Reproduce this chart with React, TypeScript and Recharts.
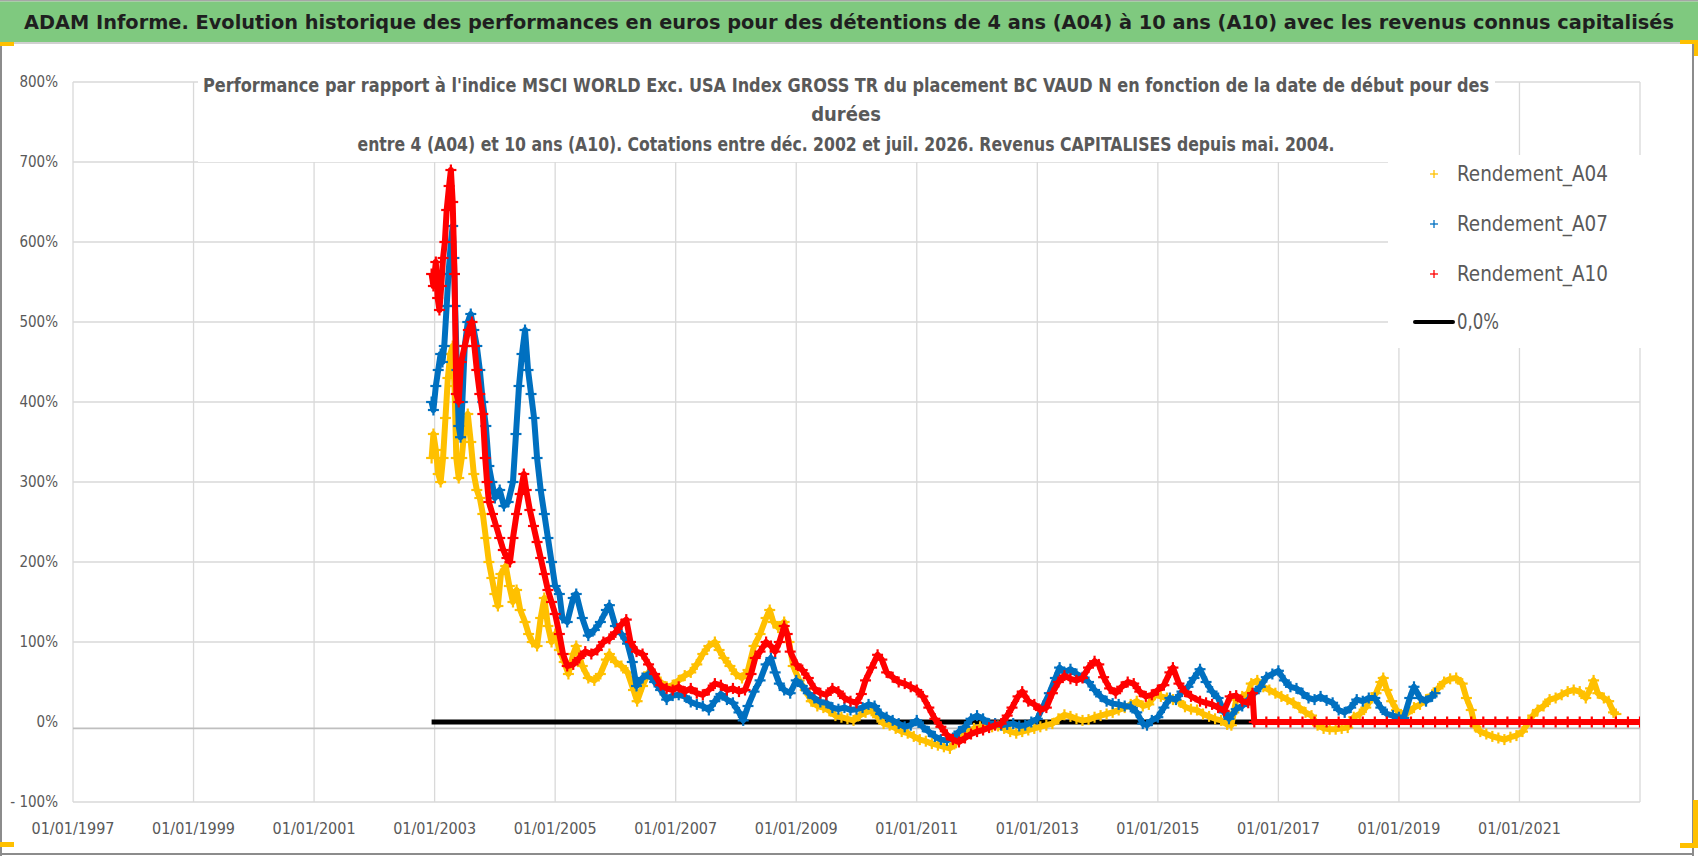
import {
  ScatterChart,
  Scatter,
  CartesianGrid,
  XAxis,
  YAxis,
  ReferenceLine,
  Legend
} from 'recharts';

// [decimal year of start date, performance in %]
const rendementA04: [number, number][] = [
  [2002.95, 330], [2002.98, 360], [2003.02, 340], [2003.06, 310], [2003.1, 300], [2003.14, 330],
  [2003.18, 380], [2003.22, 430], [2003.26, 460], [2003.3, 470], [2003.33, 420], [2003.36, 330],
  [2003.4, 305], [2003.45, 330], [2003.5, 370], [2003.55, 385], [2003.6, 350], [2003.65, 310],
  [2003.7, 290], [2003.75, 280], [2003.8, 260], [2003.85, 230], [2003.9, 200], [2003.95, 180],
  [2004.0, 160], [2004.05, 145], [2004.1, 185], [2004.18, 195], [2004.24, 170], [2004.3, 150],
  [2004.36, 165], [2004.42, 140], [2004.5, 125], [2004.56, 110], [2004.62, 100], [2004.7, 95],
  [2004.76, 130], [2004.82, 155], [2004.88, 120], [2004.94, 100], [2005.0, 110], [2005.07, 90],
  [2005.15, 75], [2005.22, 60], [2005.3, 85], [2005.35, 95], [2005.45, 70], [2005.55, 55],
  [2005.65, 52], [2005.75, 60], [2005.85, 78], [2005.9, 85], [2006.0, 75], [2006.1, 70],
  [2006.2, 62], [2006.3, 40], [2006.36, 26], [2006.45, 45], [2006.55, 62], [2006.65, 58],
  [2006.75, 50], [2006.85, 44], [2006.95, 46], [2007.05, 52], [2007.15, 58], [2007.25, 62],
  [2007.35, 72], [2007.45, 85], [2007.55, 95], [2007.65, 100], [2007.72, 90], [2007.8, 80],
  [2007.9, 70], [2008.0, 60], [2008.1, 55], [2008.2, 65], [2008.3, 95], [2008.4, 110],
  [2008.5, 130], [2008.56, 140], [2008.62, 125], [2008.7, 118], [2008.8, 125], [2008.88, 100],
  [2008.95, 70], [2009.05, 52], [2009.15, 40], [2009.25, 26], [2009.35, 20], [2009.45, 18],
  [2009.55, 14], [2009.65, 8], [2009.75, 6], [2009.85, 4], [2009.95, 2], [2010.05, 8],
  [2010.15, 12], [2010.25, 14], [2010.35, 6], [2010.45, -2], [2010.55, -4], [2010.65, -8],
  [2010.75, -12], [2010.85, -14], [2010.95, -18], [2011.05, -22], [2011.15, -24], [2011.25, -27],
  [2011.35, -29], [2011.45, -31], [2011.55, -33], [2011.65, -26], [2011.75, -19], [2011.85, -12],
  [2011.95, -8], [2012.05, -6], [2012.15, -5], [2012.25, -6], [2012.35, -5], [2012.45, -8],
  [2012.55, -12], [2012.65, -14], [2012.75, -12], [2012.85, -10], [2012.95, -8], [2013.05, -6],
  [2013.15, -4], [2013.25, -2], [2013.35, 4], [2013.45, 9], [2013.55, 7], [2013.65, 4],
  [2013.75, 2], [2013.85, 3], [2013.95, 6], [2014.05, 8], [2014.15, 10], [2014.25, 12],
  [2014.35, 15], [2014.45, 18], [2014.55, 22], [2014.65, 26], [2014.75, 20], [2014.85, 22],
  [2014.95, 34], [2015.05, 32], [2015.15, 30], [2015.25, 28], [2015.35, 26], [2015.45, 19],
  [2015.55, 16], [2015.65, 15], [2015.75, 10], [2015.85, 7], [2015.95, 4], [2016.05, 2],
  [2016.15, -3], [2016.22, -4], [2016.26, 12], [2016.3, 28], [2016.4, 32], [2016.5, 36],
  [2016.55, 48], [2016.65, 52], [2016.75, 44], [2016.85, 40], [2016.95, 36], [2017.05, 32],
  [2017.15, 28], [2017.25, 24], [2017.35, 18], [2017.45, 12], [2017.55, 8], [2017.65, -4],
  [2017.75, -8], [2017.85, -9], [2017.95, -9], [2018.05, -8], [2018.15, -7], [2018.25, 6],
  [2018.35, 10], [2018.45, 18], [2018.55, 30], [2018.62, 36], [2018.7, 50], [2018.74, 55],
  [2018.8, 40], [2018.88, 26], [2018.96, 15], [2019.05, 8], [2019.14, 11], [2019.25, 18],
  [2019.35, 22], [2019.45, 28], [2019.55, 34], [2019.65, 42], [2019.75, 50], [2019.85, 54],
  [2019.95, 55], [2020.05, 48], [2020.12, 30], [2020.2, 15], [2020.26, -5], [2020.35, -12],
  [2020.45, -15], [2020.55, -18], [2020.65, -20], [2020.75, -22], [2020.85, -19], [2020.95, -17],
  [2021.05, -12], [2021.15, 0], [2021.22, 8], [2021.3, 15], [2021.4, 20], [2021.5, 28],
  [2021.6, 30], [2021.7, 34], [2021.8, 38], [2021.9, 40], [2022.0, 38], [2022.1, 30],
  [2022.18, 42], [2022.23, 52], [2022.3, 36], [2022.4, 30], [2022.48, 26], [2022.56, 12],
  [2022.6, 10]
];

const rendementA07: [number, number][] = [
  [2002.95, 400], [2002.98, 390], [2003.02, 420], [2003.06, 440], [2003.1, 460], [2003.13, 450],
  [2003.16, 470], [2003.2, 520], [2003.23, 560], [2003.27, 600], [2003.3, 620], [2003.32, 580],
  [2003.34, 520], [2003.37, 440], [2003.4, 370], [2003.43, 356], [2003.46, 400], [2003.5, 470],
  [2003.55, 500], [2003.6, 510], [2003.65, 490], [2003.7, 470], [2003.75, 440], [2003.8, 400],
  [2003.85, 370], [2003.9, 320], [2003.95, 300], [2004.0, 280], [2004.08, 290], [2004.15, 270],
  [2004.22, 275], [2004.3, 300], [2004.35, 360], [2004.4, 420], [2004.45, 460], [2004.5, 490],
  [2004.55, 440], [2004.6, 410], [2004.65, 380], [2004.7, 330], [2004.76, 290], [2004.82, 260],
  [2004.88, 230], [2004.94, 200], [2005.0, 170], [2005.07, 160], [2005.12, 130], [2005.2, 125],
  [2005.3, 155], [2005.35, 160], [2005.45, 130], [2005.55, 108], [2005.65, 115], [2005.75, 125],
  [2005.85, 140], [2005.9, 146], [2006.0, 120], [2006.1, 110], [2006.2, 98], [2006.28, 75],
  [2006.35, 45], [2006.45, 55], [2006.55, 60], [2006.65, 50], [2006.75, 40], [2006.85, 28],
  [2006.95, 33], [2007.05, 34], [2007.15, 32], [2007.25, 25], [2007.35, 22], [2007.45, 20],
  [2007.55, 15], [2007.65, 26], [2007.75, 35], [2007.85, 28], [2007.95, 24], [2008.05, 12],
  [2008.12, 2], [2008.2, 20], [2008.3, 38], [2008.4, 52], [2008.5, 72], [2008.58, 80],
  [2008.65, 62], [2008.72, 48], [2008.8, 40], [2008.9, 36], [2009.0, 52], [2009.1, 45],
  [2009.2, 36], [2009.3, 30], [2009.4, 25], [2009.5, 24], [2009.6, 18], [2009.7, 16],
  [2009.8, 18], [2009.9, 15], [2010.0, 16], [2010.1, 18], [2010.2, 22], [2010.3, 20],
  [2010.4, 10], [2010.5, 6], [2010.6, 2], [2010.7, -2], [2010.8, -6], [2010.9, -4],
  [2011.0, 2], [2011.1, -6], [2011.2, -12], [2011.3, -18], [2011.4, -22], [2011.5, -23],
  [2011.6, -20], [2011.7, -12], [2011.8, -6], [2011.9, 4], [2012.0, 8], [2012.1, 4],
  [2012.2, -2], [2012.3, -2], [2012.4, -4], [2012.5, -3], [2012.6, -2], [2012.7, -5],
  [2012.8, -4], [2012.9, 0], [2013.0, 4], [2013.1, 20], [2013.2, 36], [2013.3, 55],
  [2013.37, 68], [2013.45, 62], [2013.55, 66], [2013.65, 60], [2013.75, 56], [2013.85, 50],
  [2013.95, 40], [2014.05, 32], [2014.15, 26], [2014.25, 23], [2014.35, 22], [2014.45, 20],
  [2014.55, 19], [2014.65, 12], [2014.75, -2], [2014.82, -4], [2014.9, 2], [2015.0, 6],
  [2015.1, 18], [2015.2, 30], [2015.3, 28], [2015.4, 38], [2015.5, 44], [2015.6, 55],
  [2015.7, 66], [2015.8, 50], [2015.9, 38], [2016.0, 30], [2016.1, 12], [2016.18, 4],
  [2016.3, 16], [2016.4, 20], [2016.5, 28], [2016.6, 36], [2016.7, 44], [2016.8, 56],
  [2016.9, 60], [2017.0, 64], [2017.1, 52], [2017.2, 44], [2017.3, 42], [2017.4, 36],
  [2017.5, 30], [2017.6, 28], [2017.7, 32], [2017.8, 27], [2017.9, 24], [2018.0, 15],
  [2018.1, 12], [2018.2, 18], [2018.3, 28], [2018.4, 26], [2018.5, 30], [2018.6, 30],
  [2018.7, 18], [2018.8, 10], [2018.9, 8], [2019.0, 6], [2019.08, 5], [2019.18, 30],
  [2019.25, 44], [2019.35, 30], [2019.45, 26], [2019.55, 32], [2019.6, 36]
];

const rendementA10: [number, number][] = [
  [2002.95, 560], [2002.98, 545], [2003.02, 575], [2003.05, 530], [2003.08, 515], [2003.11, 545],
  [2003.14, 580], [2003.17, 600], [2003.2, 640], [2003.24, 670], [2003.27, 690], [2003.3, 650],
  [2003.33, 560], [2003.36, 410], [2003.4, 400], [2003.44, 450], [2003.5, 470], [2003.56, 490],
  [2003.62, 500], [2003.66, 470], [2003.7, 440], [2003.75, 410], [2003.8, 385], [2003.84, 330],
  [2003.87, 300], [2003.9, 275], [2003.96, 260], [2004.02, 245], [2004.08, 230], [2004.14, 215],
  [2004.2, 205], [2004.25, 200], [2004.3, 230], [2004.36, 260], [2004.42, 285], [2004.48, 310],
  [2004.52, 290], [2004.58, 265], [2004.64, 245], [2004.7, 225], [2004.76, 205], [2004.82, 185],
  [2004.88, 165], [2004.94, 150], [2005.0, 135], [2005.07, 110], [2005.13, 85], [2005.2, 70],
  [2005.3, 72], [2005.4, 80], [2005.5, 88], [2005.6, 85], [2005.7, 90], [2005.8, 100],
  [2005.9, 104], [2006.0, 112], [2006.1, 122], [2006.18, 128], [2006.25, 100], [2006.35, 88],
  [2006.45, 85], [2006.55, 72], [2006.65, 60], [2006.75, 46], [2006.85, 42], [2006.95, 40],
  [2007.05, 44], [2007.15, 38], [2007.25, 42], [2007.35, 36], [2007.45, 34], [2007.55, 40],
  [2007.65, 48], [2007.75, 46], [2007.85, 40], [2007.95, 42], [2008.05, 38], [2008.15, 40],
  [2008.25, 60], [2008.32, 80], [2008.4, 88], [2008.5, 100], [2008.58, 95], [2008.65, 88],
  [2008.72, 100], [2008.8, 120], [2008.85, 110], [2008.9, 88], [2009.0, 72], [2009.1, 65],
  [2009.2, 55], [2009.3, 42], [2009.4, 36], [2009.5, 34], [2009.6, 42], [2009.7, 38],
  [2009.8, 30], [2009.9, 26], [2010.0, 24], [2010.08, 35], [2010.15, 52], [2010.25, 68],
  [2010.35, 84], [2010.42, 78], [2010.5, 62], [2010.6, 56], [2010.7, 50], [2010.8, 48],
  [2010.9, 44], [2011.0, 40], [2011.1, 32], [2011.2, 18], [2011.3, 4], [2011.4, -6],
  [2011.5, -16], [2011.6, -22], [2011.7, -25], [2011.8, -20], [2011.9, -15], [2012.0, -12],
  [2012.1, -10], [2012.2, -7], [2012.3, -4], [2012.4, -2], [2012.5, 8], [2012.58, 18],
  [2012.68, 32], [2012.75, 38], [2012.85, 26], [2012.95, 22], [2013.05, 15], [2013.15, 18],
  [2013.25, 36], [2013.35, 50], [2013.45, 58], [2013.55, 54], [2013.65, 52], [2013.75, 55],
  [2013.85, 68], [2013.95, 76], [2014.02, 72], [2014.1, 56], [2014.2, 42], [2014.3, 36],
  [2014.4, 44], [2014.5, 50], [2014.6, 48], [2014.7, 38], [2014.8, 32], [2014.9, 34],
  [2015.0, 40], [2015.1, 46], [2015.2, 62], [2015.25, 68], [2015.35, 48], [2015.45, 38],
  [2015.55, 32], [2015.7, 26], [2015.8, 24], [2015.9, 22], [2016.0, 18], [2016.1, 14],
  [2016.2, 32], [2016.3, 33], [2016.4, 26], [2016.5, 24], [2016.57, 36],
  // no 10-year window available after mid-2016: the sheet shows 0
  [2016.6, 0], [2016.8, 0], [2017.0, 0], [2017.2, 0], [2017.4, 0], [2017.6, 0], [2017.8, 0],
  [2018.0, 0], [2018.2, 0], [2018.4, 0], [2018.6, 0], [2018.8, 0], [2019.0, 0], [2019.2, 0],
  [2019.4, 0], [2019.6, 0], [2019.8, 0], [2020.0, 0], [2020.2, 0], [2020.4, 0], [2020.6, 0],
  [2020.8, 0], [2021.0, 0], [2021.2, 0], [2021.4, 0], [2021.6, 0], [2021.8, 0], [2022.0, 0],
  [2022.2, 0], [2022.4, 0], [2022.6, 0], [2022.8, 0], [2023.0, 0]
];

const zeroLine: [number, number][] = [[2002.95, 0], [2023.0, 0]];

const xTicks = [1997, 1999, 2001, 2003, 2005, 2007, 2009, 2011, 2013, 2015, 2017, 2019, 2021];
const yTicks = [-100, 0, 100, 200, 300, 400, 500, 600, 700, 800];
const gridValues = [-100, 100, 200, 300, 400, 500, 600, 700, 800];

const titleText =
  'ADAM Informe. Evolution historique des performances en euros pour des détentions de 4 ans (A04) à 10 ans (A10) avec les revenus connus capitalisés';
const subtitleLines = [
  "Performance par rapport à l'indice MSCI WORLD Exc. USA Index GROSS TR  du placement BC VAUD N en fonction de la date de début pour des",
  'durées',
  'entre 4 (A04) et 10 ans (A10). Cotations entre déc. 2002 et juil. 2026. Revenus CAPITALISES depuis mai. 2004.'
];

const legendItems = [
  { label: 'Rendement_A04', color: '#FFC000', kind: 'cross' },
  { label: 'Rendement_A07', color: '#0070C0', kind: 'cross' },
  { label: 'Rendement_A10', color: '#FF0000', kind: 'cross' },
  { label: '0,0%', color: '#000000', kind: 'line' }
];

const FONT = "'Liberation Sans Narrow', 'DejaVu Sans Condensed', 'Open Sans', sans-serif";
const TEXT_GREY = '#595959';

const toPoints = (rows: [number, number][]) => rows.map(([x, y]) => ({ x, y }));

const makeCross = (color: string, half: number, width: number) => (props: any) => {
  const { cx, cy } = props;
  if (cx == null || cy == null) return <g />;
  return (
    <g stroke={color} strokeWidth={width}>
      <line x1={cx - half} y1={cy} x2={cx + half} y2={cy} />
      <line x1={cx} y1={cy - half} x2={cx} y2={cy + half} />
    </g>
  );
};

const noDot = () => <g />;

const formatPercent = (v: number) => (v < 0 ? `- ${Math.abs(v)}%` : `${v}%`);
const formatDate = (v: number) => `01/01/${v}`;

const LegendBox = () => (
  <svg width={257} height={193} style={{ display: 'block', background: '#ffffff' }}>
    {legendItems.map((item, i) => {
      const cy = [19, 69, 119, 167][i];
      return (
        <g key={item.label}>
          {item.kind === 'cross' ? (
            <g stroke={item.color} strokeWidth={1.3}>
              <line x1={42} y1={cy} x2={50} y2={cy} />
              <line x1={46} y1={cy - 4} x2={46} y2={cy + 4} />
            </g>
          ) : (
            <line x1={27} y1={cy} x2={65} y2={cy} stroke={item.color} strokeWidth={4} strokeLinecap="round" />
          )}
          <text
            x={69}
            y={cy}
            dominantBaseline="central"
            fontFamily={FONT}
            fontSize={21}
            fill={TEXT_GREY}
            textLength={item.kind === 'cross' ? 151 : 42}
            lengthAdjust="spacingAndGlyphs"
          >
            {item.label}
          </text>
        </g>
      );
    })}
  </svg>
);

const SERIES_LINE = 6;

const App = () => {
  return (
    <div style={{ position: 'absolute', left: 0, top: 0, width: 1698, height: 856, background: '#ffffff' }}>
      <ScatterChart
        width={1698}
        height={856}
        margin={{ top: 82, right: 58, bottom: 24, left: 13 }}
        style={{ fontFamily: FONT }}
      >
        <CartesianGrid stroke="#d9d9d9" strokeWidth={1.3} horizontalValues={gridValues} />
        <XAxis
          type="number"
          dataKey="x"
          domain={[1997, 2023]}
          ticks={xTicks}
          tickFormatter={formatDate}
          allowDataOverflow
          axisLine={false}
          tickLine={false}
          tickSize={0}
          tickMargin={21}
          height={30}
          tick={{ fill: TEXT_GREY, fontSize: 16, fontFamily: FONT }}
        />
        <YAxis
          type="number"
          dataKey="y"
          domain={[-100, 800]}
          ticks={yTicks}
          tickFormatter={formatPercent}
          allowDataOverflow
          axisLine={false}
          tickLine={false}
          tickSize={0}
          tickMargin={15}
          width={60}
          tick={{ fill: TEXT_GREY, fontSize: 15, fontFamily: FONT }}
        />
        <ReferenceLine y={-8} stroke="#bfbfbf" strokeWidth={1.6} />
        <Scatter
          name="0,0%"
          data={toPoints(zeroLine)}
          line={{ stroke: '#000000', strokeWidth: 5 }}
          shape={noDot}
          isAnimationActive={false}
        />
        <Scatter
          name="Rendement_A04"
          data={toPoints(rendementA04)}
          line={{ stroke: '#FFC000', strokeWidth: SERIES_LINE, strokeLinejoin: 'round' }}
          shape={makeCross('#FFC000', 5.5, 2.2)}
          isAnimationActive={false}
        />
        <Scatter
          name="Rendement_A07"
          data={toPoints(rendementA07)}
          line={{ stroke: '#0070C0', strokeWidth: SERIES_LINE, strokeLinejoin: 'round' }}
          shape={makeCross('#0070C0', 5.5, 2.2)}
          isAnimationActive={false}
        />
        <Scatter
          name="Rendement_A10"
          data={toPoints(rendementA10)}
          line={{ stroke: '#FF0000', strokeWidth: SERIES_LINE, strokeLinejoin: 'round' }}
          shape={makeCross('#FF0000', 5.5, 2.2)}
          isAnimationActive={false}
        />
        <Legend
          layout="vertical"
          align="center"
          verticalAlign="middle"
          wrapperStyle={{ left: 1388, top: 155, width: 257, height: 193 }}
          content={() => <LegendBox />}
        />
      </ScatterChart>

      <svg
        width={1698}
        height={856}
        style={{ position: 'absolute', left: 0, top: 0, pointerEvents: 'none' }}
      >
        {/* title band */}
        <rect x={0} y={0} width={1698} height={1.5} fill="#a6a6a6" />
        <rect x={0} y={1.5} width={1698} height={40.5} fill="#7fc97f" />
        <rect x={0} y={42} width={1698} height={2} fill="#d0d0d0" />
        <text
          x={849}
          y={22}
          textAnchor="middle"
          dominantBaseline="central"
          fontFamily={FONT}
          fontWeight="bold"
          fontSize={20}
          fill="#1f1f1f"
          textLength={1650}
          lengthAdjust="spacingAndGlyphs"
        >
          {titleText}
        </text>

        {/* frame and selection handles */}
        <rect x={0} y={44} width={2} height={812} fill="#8c8c8c" />
        <rect x={1692} y={44} width={2} height={812} fill="#8c8c8c" />
        <rect x={0} y={853} width={1694} height={2} fill="#8c8c8c" />
        <rect x={0} y={42} width={14} height={4} fill="#FFC000" />
        <rect x={0} y={842} width={14} height={5} fill="#FFC000" />
        <rect x={1680} y={40} width={18} height={4} fill="#FFC000" />
        <rect x={1694} y={40} width={4} height={16} fill="#FFC000" />
        <rect x={1693} y={800} width={5} height={48} fill="#FFC000" />
        <rect x={1680} y={843} width={18} height={5} fill="#FFC000" />

        {/* chart title box */}
        <rect x={198} y={62} width={1297} height={100} fill="#ffffff" />
        <text
          x={846}
          y={85}
          textAnchor="middle"
          dominantBaseline="central"
          fontFamily={FONT}
          fontWeight="bold"
          fontSize={20}
          fill={TEXT_GREY}
          textLength={1286}
          lengthAdjust="spacingAndGlyphs"
        >
          {subtitleLines[0]}
        </text>
        <text
          x={846}
          y={114}
          textAnchor="middle"
          dominantBaseline="central"
          fontFamily={FONT}
          fontWeight="bold"
          fontSize={20}
          fill={TEXT_GREY}
        >
          {subtitleLines[1]}
        </text>
        <text
          x={846}
          y={144}
          textAnchor="middle"
          dominantBaseline="central"
          fontFamily={FONT}
          fontWeight="bold"
          fontSize={20}
          fill={TEXT_GREY}
          textLength={977}
          lengthAdjust="spacingAndGlyphs"
        >
          {subtitleLines[2]}
        </text>
      </svg>
    </div>
  );
};

export default App;
